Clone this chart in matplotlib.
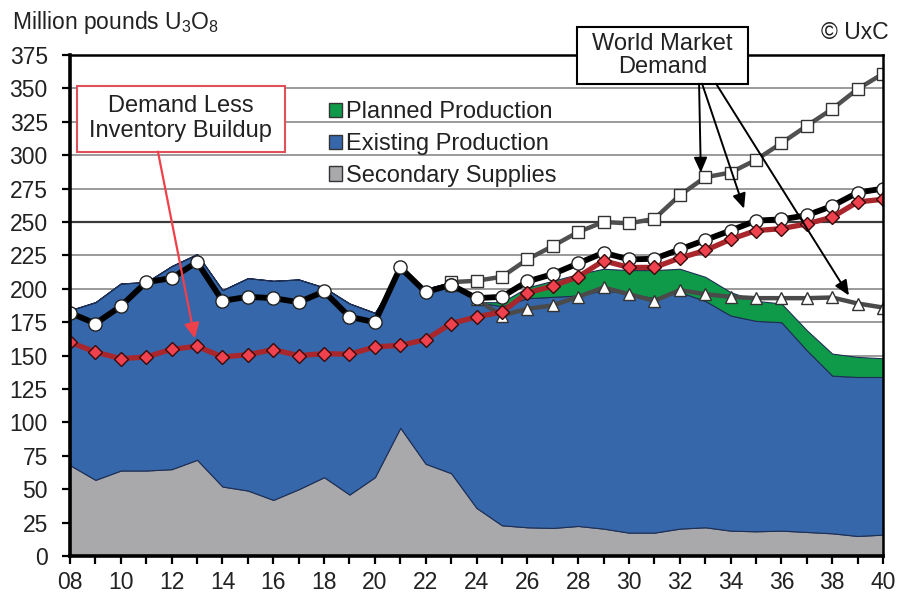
import matplotlib
matplotlib.use("Agg")
import matplotlib.pyplot as plt
from matplotlib.patches import Patch, Rectangle
from matplotlib import font_manager
import numpy as np

plt.rcParams['font.family'] = ['Liberation Sans', 'DejaVu Sans']
plt.rcParams['mathtext.fontset'] = 'custom'
plt.rcParams['mathtext.rm'] = 'Liberation Sans'

# ---------------- data ----------------
years = list(range(2008, 2041))
secondary = [68, 57, 64, 64, 65, 72, 52, 49, 42, 50, 59, 46, 59, 96, 69,
             62, 36, 23, 21.5, 21, 22.5, 20.5, 17.5, 17.5, 20.5, 21.5, 19, 18.5, 19, 18, 17, 15, 16]
supply_top = [184, 190, 204, 205, 217, 226, 199, 208, 206, 207, 201, 189, 182, 213, 200,
              205, 190, 187, 193, 194, 195, 199, 196.5, 193, 197.5, 191, 180, 176, 175, 154, 135, 134, 134]
existing = [t - s for t, s in zip(supply_top, secondary)]
planned = [0] * 17 + [3, 8, 12, 16, 16, 17.5, 21, 17.5, 18, 17.5, 15, 14, 15, 16.5, 15, 14]

hist_years = list(range(2008, 2024))
demand_hist = [182, 174, 187, 205, 208, 220, 191, 194, 193, 190, 198, 179, 175, 216, 197.5, 203]

proj_years = list(range(2023, 2041))
demand_mid = [203, 193, 194, 205.5, 211, 219, 227, 222, 222.5, 229.5, 236.5, 243.6, 251, 252, 255, 262, 272, 275]
demand_high = [205, 206, 209, 222, 232, 242.5, 250, 249, 252.4, 270, 283.5, 287, 296.5, 309, 322, 334.6, 349.5, 361]
demand_low = [203, 192, 180, 185, 187.6, 194, 201, 196, 191, 199, 196, 194, 193, 193, 193, 193.5, 189, 186]

demand_less_inv = [160, 152.7, 147.7, 149, 154.7, 157, 149, 150.7, 154.5, 150, 151.5, 151, 156.5, 157.7, 162,
                   174, 179, 182.6, 197, 202, 209, 221, 216, 216, 223, 228.7, 237, 243.6, 245, 248.6, 253.6, 265, 267]

legend_labels = ["Planned Production", "Existing Production", "Secondary Supplies"]
yticks = list(range(0, 376, 25))
xtick_years = list(range(2008, 2041, 2))
xtick_labels = [f"{y % 100:02d}" for y in xtick_years]

# ---------------- style ----------------
c_gray = "#A9A9AB"
c_blue = "#3567AA"
c_green = "#0F9A4A"
c_edge = "#1E2F55"
c_text = "#222222"

installed = {f.name for f in font_manager.fontManager.ttflist}
narrow = 'Liberation Sans Narrow' in installed
tick_family = ['Liberation Sans Narrow', 'Liberation Sans'] if narrow else ['Liberation Sans']
tick_size = 18.5 if narrow else 16.5

fig = plt.figure(figsize=(8.99, 5.96), dpi=100)
ax = fig.add_axes([0.0779, 0.0671, 0.9043, 0.8406])

ax.stackplot(years, secondary, existing, planned,
             colors=[c_gray, c_blue, c_green], edgecolor=c_edge, linewidth=0.8, zorder=2)

# grid
for yv in yticks[1:]:
    col = "#3a3a3a" if yv == 250 else "#9a9a9a"
    ax.axhline(yv, color=col, lw=1.6 if yv == 250 else 1.4, zorder=1)

# lines
ax.plot(proj_years, demand_low, color="#4a4a4a", lw=3.2, marker="^", ms=8,
        mfc="white", mec="#333333", mew=1.0, zorder=4)
ax.plot(proj_years, demand_high, color="#505050", lw=3.2, marker="s", ms=9,
        mfc="white", mec="#333333", mew=1.0, zorder=4)
ax.plot(hist_years, demand_hist, color="black", lw=4.2, marker="o", ms=9.5,
        mfc="white", mec="#222222", mew=1.0, zorder=5)
ax.plot(proj_years, demand_mid, color="black", lw=4.2, marker="o", ms=9.5,
        mfc="white", mec="#222222", mew=1.0, zorder=5)
ax.plot(years, demand_less_inv, color="#A8262C", lw=3.8, marker="D", ms=7,
        mfc="#F0424E", mec="#3a0a0a", mew=1.0, zorder=6)

# axes
ax.set_xlim(2008, 2040)
ax.set_ylim(0, 375)
ax.set_yticks(yticks)
ax.set_yticklabels([str(v) for v in yticks])
ax.set_xticks(xtick_years)
ax.set_xticklabels(xtick_labels)
ax.set_xticks(years, minor=True)
ax.tick_params(axis='both', which='major', labelsize=tick_size, labelcolor=c_text,
               direction='out', length=6, width=1.6, color="black")
ax.tick_params(axis='x', which='minor', direction='out', length=6, width=1.6, color="black")
ax.tick_params(axis='x', pad=5)
ax.tick_params(axis='y', pad=10)
for lab in ax.get_xticklabels() + ax.get_yticklabels():
    lab.set_family(tick_family)
for s in ['left', 'bottom']:
    ax.spines[s].set_linewidth(2.6)
    ax.spines[s].set_color("black")
for s in ['top', 'right']:
    ax.spines[s].set_linewidth(1.8)
    ax.spines[s].set_color("black")
for s in ax.spines.values():
    s.set_zorder(7)

# legend
handles = [Patch(facecolor=c, edgecolor="#333333", linewidth=1.0) for c in (c_green, c_blue, c_gray)]
ax.legend(handles, legend_labels, loc='upper left', bbox_to_anchor=(0.318, 0.908),
          frameon=False, fontsize=17, handlelength=0.55, handleheight=0.55,
          handletextpad=0.2, labelspacing=0.42, borderpad=0, borderaxespad=0,
          labelcolor=c_text)

# annotation boxes
ax.add_patch(Rectangle((2008.28, 302.7), 8.17, 49.3, fc="white", ec="#E0505A", lw=1.5,
                       zorder=8, clip_on=False))
ax.text(2012.36, 327.4, "Demand Less\nInventory Buildup", ha='center', va='center',
        fontsize=17, color=c_text, linespacing=1.15, zorder=9)
ax.annotate("", xy=(2012.91, 163), xytext=(2011.46, 302.7),
            arrowprops=dict(arrowstyle="-|>,head_length=0.9,head_width=0.45",
                            color="#F0404A", lw=1.6, shrinkA=0, shrinkB=0), zorder=8)

ax.add_patch(Rectangle((2027.97, 353.5), 6.72, 42.6, fc="white", ec="black", lw=1.5,
                       zorder=9, clip_on=False))
ax.text(2031.33, 374.8, "World Market\nDemand", ha='center', va='center',
        fontsize=17, color=c_text, linespacing=1.05, zorder=10)
for (x0, xt, yt) in [(2032.76, 2032.83, 287), (2032.88, 2034.53, 260), (2033.43, 2038.66, 195)]:
    ax.annotate("", xy=(xt, yt), xytext=(x0, 353.5),
                arrowprops=dict(arrowstyle="-|>,head_length=0.9,head_width=0.4",
                                color="black", lw=1.4, shrinkA=0, shrinkB=0),
                zorder=9, annotation_clip=False)

fig.text(0.013, 0.963, r"Million pounds U$_3$O$_8$", fontsize=16.5, color=c_text,
         ha='left', va='center')
fig.text(0.988, 0.946, "© UxC", fontsize=16.5, color=c_text, ha='right', va='center')

fig.savefig("out.png", dpi=100)
